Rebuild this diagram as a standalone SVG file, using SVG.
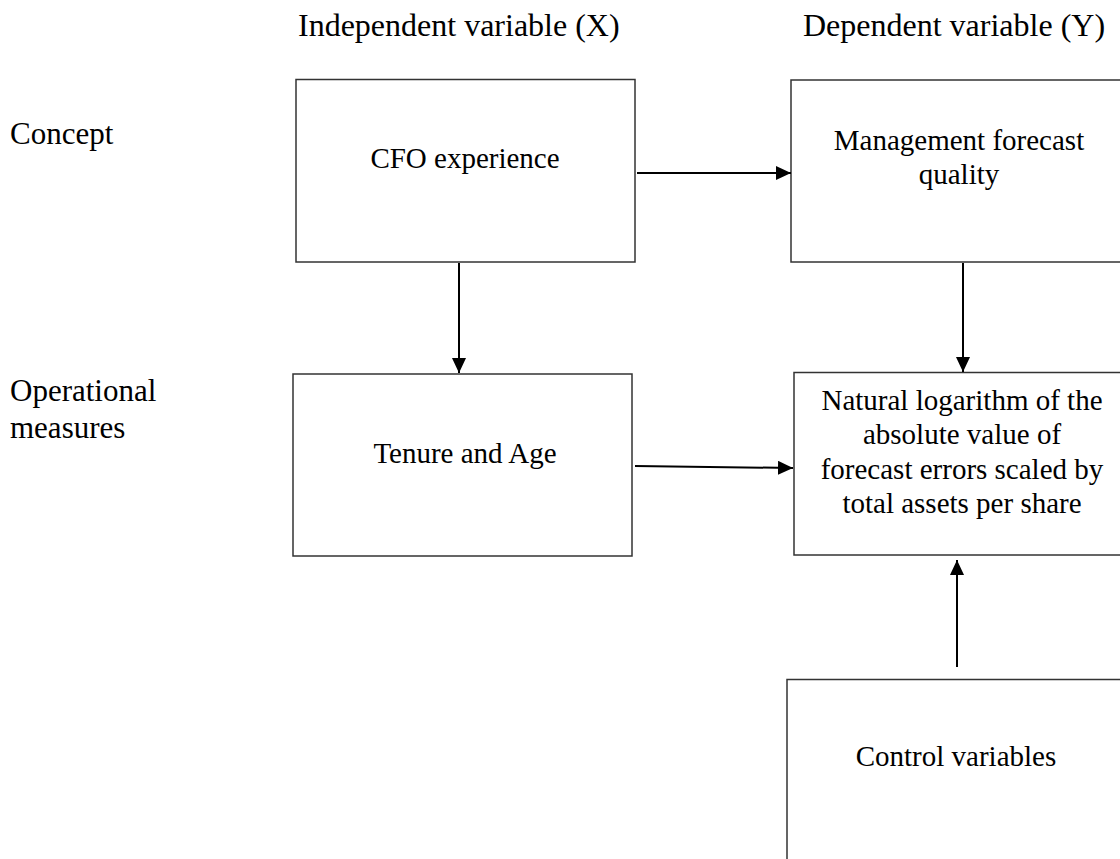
<svg xmlns="http://www.w3.org/2000/svg" width="1120" height="859" viewBox="0 0 1120 859">
<style>
.box{fill:#fff;stroke:#333;stroke-width:1.5}
.t{font-family:"Liberation Serif","Times New Roman",serif;font-size:29px;fill:#000}
.h{font-size:32px}
.l{font-size:31px}
.m{text-anchor:middle}
.c{stroke:#000;stroke-width:2;fill:none;marker-end:url(#ah)}
</style>
<defs>
<marker id="ah" markerUnits="userSpaceOnUse" markerWidth="16" markerHeight="14" refX="15" refY="7" orient="auto">
<path d="M0,0 L15,7 L0,14 z" fill="#000"/>
</marker>
</defs>
<rect width="1120" height="859" fill="#fff"/>
<g id="labels">
<text class="t h" x="298" y="36">Independent variable (X)</text>
<text class="t h" x="803" y="36">Dependent variable (Y)</text>
<text class="t l" x="10" y="144">Concept</text>
<text class="t l" x="10" y="401">Operational</text>
<text class="t l" x="10" y="438">measures</text>
</g>
<g id="cfo">
<rect class="box" x="296" y="79.5" width="339" height="182.5"/>
<text class="t m" x="465" y="168">CFO experience</text>
</g>
<g id="mfq">
<rect class="box" x="791" y="80" width="337" height="182"/>
<text class="t m" x="959" y="150">Management forecast</text>
<text class="t m" x="959" y="184">quality</text>
</g>
<g id="tenure">
<rect class="box" x="293" y="374" width="339" height="182"/>
<text class="t m" x="465" y="463">Tenure and Age</text>
</g>
<g id="natlog">
<rect class="box" x="794" y="372.5" width="334" height="182.5"/>
<text class="t m" x="962" y="410">Natural logarithm of the</text>
<text class="t m" x="962" y="444">absolute value of</text>
<text class="t m" x="962" y="479">forecast errors scaled by</text>
<text class="t m" x="962" y="513">total assets per share</text>
</g>
<g id="control">
<rect class="box" x="787" y="679.5" width="340" height="200"/>
<text class="t m" x="956" y="766">Control variables</text>
</g>
<g id="connectors">
<line class="c" x1="637" y1="173" x2="791" y2="173"/>
<line class="c" x1="459" y1="263" x2="459" y2="373"/>
<line class="c" x1="963" y1="263" x2="963" y2="372"/>
<line class="c" x1="635" y1="466" x2="793" y2="468"/>
<line class="c" x1="957" y1="667" x2="957" y2="560"/>
</g>
</svg>
